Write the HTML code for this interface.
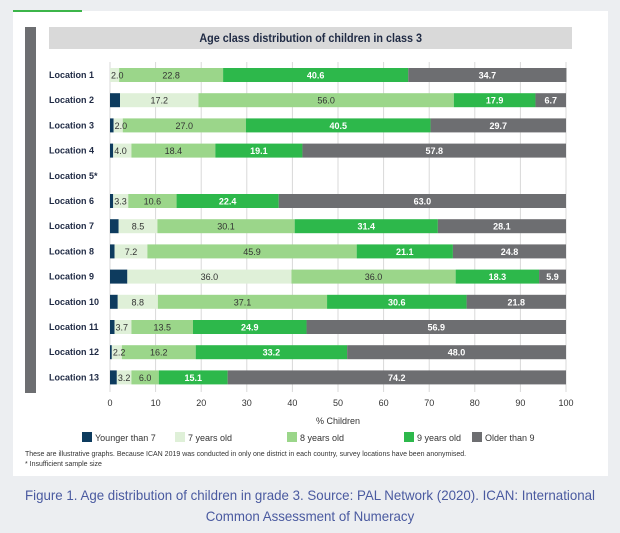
<!DOCTYPE html>
<html><head><meta charset="utf-8"><style>
body{margin:0;width:620px;height:533px;background:#eceef1;font-family:"Liberation Sans",sans-serif;overflow:hidden;position:relative}
.abs{position:absolute}
</style></head><body>
<div class="abs" style="left:13px;top:11px;width:595px;height:465px;background:#fff"></div>
<div class="abs" style="left:13px;top:10px;width:69px;height:2px;background:#3cb54a"></div>
<div class="abs" style="left:25px;top:27px;width:11px;height:366px;background:#6d6e71"></div>
<div class="abs" style="left:49px;top:27px;width:523px;height:22px;background:#d9d9d9;color:#1f2a44;font-size:12px;font-weight:bold;text-align:center;line-height:22px"><span style="display:inline-block;transform:scaleX(0.9)">Age class distribution of children in class 3</span></div>
<svg class="abs" style="left:0;top:0" width="620" height="533" id="chart"></svg>
<div class="abs" style="left:25px;top:450px;font-size:7px;color:#333;line-height:10px">These are illustrative graphs. Because ICAN 2019 was conducted in only one district in each country, survey locations have been anonymised.<br>* Insufficient sample size</div>
<div class="abs" style="left:0;top:485px;width:620px;text-align:center;font-size:14px;color:#4a5aa0;line-height:21px"><div style="transform:scaleX(0.95);transform-origin:50% 0">Figure 1. Age distribution of children in grade 3. Source: PAL Network (2020). ICAN: International<br>Common Assessment of Numeracy</div></div>
<script>
const categories=["Location 1","Location 2","Location 3","Location 4","Location 5*","Location 6","Location 7","Location 8","Location 9","Location 10","Location 11","Location 12","Location 13"];
const seriesNames=["Younger than 7","7 years old","8 years old","9 years old","Older than 9"];
const younger=[0,2.2,0.8,0.7,null,0.7,1.9,1.0,3.8,1.7,1.0,0.4,1.5];
const age7=[2.0,17.2,2.0,4.0,null,3.3,8.5,7.2,36.0,8.8,3.7,2.2,3.2];
const age8=[22.8,56.0,27.0,18.4,null,10.6,30.1,45.9,36.0,37.1,13.5,16.2,6.0];
const age9=[40.6,17.9,40.5,19.1,null,22.4,31.4,21.1,18.3,30.6,24.9,33.2,15.1];
const older=[34.7,6.7,29.7,57.8,null,63.0,28.1,24.8,5.9,21.8,56.9,48.0,74.2];
const ticks=[0,10,20,30,40,50,60,70,80,90,100];
const colors=["#0d3b5e","#dff0d8","#9bd68a","#2db84b","#6d6e71"];
const textColors=[null,"#333","#333","#fff","#fff"];
const svg=document.getElementById('chart');const NS="http://www.w3.org/2000/svg";
const x0=110,x1=566;
const xs=v=>x0+(x1-x0)*v/100;
const ys=i=>75+i*25.2;
function mk(t,a,p){const e=document.createElementNS(NS,t);for(const k in a)e.setAttribute(k,a[k]);(p||svg).appendChild(e);return e;}
ticks.forEach(t=>{
 const g=mk('line',{x1:xs(t),x2:xs(t),y1:62,y2:392,stroke:'#d9d9d9','stroke-width':1});
 
 
 const l=mk('text',{x:xs(t),y:406,'text-anchor':'middle','font-size':9,fill:'#333'});l.textContent=t;
 
 
});
const xt=mk('text',{x:338,y:424,'text-anchor':'middle','font-size':9,fill:'#333'});xt.textContent='% Children';


const series=[younger,age7,age8,age9,older];
const rectLayer=mk('g',{});
const textLayer=mk('g',{});
categories.forEach((c,i)=>{
 const y=ys(i);
 const lab=mk('text',{x:49,y:y+3,'font-size':9,'font-weight':'bold',fill:'#1f2a44'},textLayer);lab.textContent=c;
 
 
 let acc=0;
 series.forEach((s,k)=>{
  const v=s[i];if(v==null)return;
  const r=mk('rect',{x:xs(acc),y:y-7,width:xs(acc+v)-xs(acc),height:14,fill:colors[k]},rectLayer);
  
  
  if(k>0){
   const w=xs(acc+v)-xs(acc);
   const small=w<22;
   const t=mk('text',{x:small?xs(acc)+1:xs(acc)+w/2,y:y+3.5,'text-anchor':small?'start':'middle','font-size':9,'font-weight':k>=3?'bold':'normal',fill:textColors[k]},textLayer);
   t.textContent=v.toFixed(1);
   
   
  }
  acc+=v;
 });
});
const legX=[82,175,287,404,472];
seriesNames.forEach((n,k)=>{
 const r=mk('rect',{x:legX[k],y:432,width:10,height:10,fill:colors[k]});
 
 
 const t=mk('text',{x:legX[k]+13,y:441,'font-size':9,fill:'#333'});t.textContent=n;
 
 
});
</script>
</body></html>
